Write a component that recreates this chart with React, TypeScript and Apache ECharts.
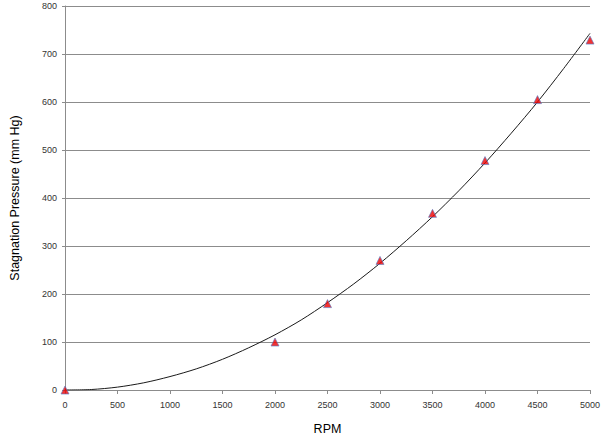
import React, { useEffect, useRef } from "react";
import * as echarts from "echarts";

const rpm = [0, 2000, 2500, 3000, 3500, 4000, 4500, 5000];
const pressure = [0, 100, 180, 270, 368, 478, 605, 729];

// trendline
const trendRpm = [0, 250, 500, 750, 1000, 1250, 1500, 1750, 2000, 2250, 2500, 2750, 3000, 3250, 3500, 3750, 4000, 4250, 4500, 4750, 5000];
const trendPressure = [0, 1, 6, 15, 28, 44, 64, 88, 115, 146, 182, 221, 264, 311, 361, 415, 473, 535, 600, 670, 743];

const xTicks = [0, 500, 1000, 1500, 2000, 2500, 3000, 3500, 4000, 4500, 5000];
const yTicks = [0, 100, 200, 300, 400, 500, 600, 700, 800];

export default function App() {
  const ref = useRef<HTMLDivElement>(null);
  useEffect(() => {
    if (!ref.current) return;
    const chart = echarts.init(ref.current, null, { renderer: "svg" });
    const font = "Liberation Sans, Arial, sans-serif";
    chart.setOption({
      animation: false,
      backgroundColor: "#ffffff",
      grid: { left: 60, right: 16, top: 6, bottom: 51 },
      xAxis: {
        type: "value",
        min: xTicks[0],
        max: xTicks[xTicks.length - 1],
        interval: 500,
        name: "RPM",
        nameLocation: "middle",
        nameGap: 32,
        nameTextStyle: { fontFamily: font, fontSize: 12.5, color: "#000" },
        axisLine: { show: true, onZero: false, lineStyle: { color: "#8c8c8c", width: 1 } },
        axisTick: { show: true, length: 4, lineStyle: { color: "#8c8c8c" } },
        axisLabel: {
          fontFamily: font,
          fontSize: 9,
          color: "#333",
          margin: 10,
          formatter: (v: number) => String(v),
        },
        splitLine: { show: false },
      },
      yAxis: {
        type: "value",
        min: yTicks[0],
        max: yTicks[yTicks.length - 1],
        interval: 100,
        name: "Stagnation Pressure (mm Hg)",
        nameLocation: "middle",
        nameGap: 44,
        nameTextStyle: { fontFamily: font, fontSize: 12.5, color: "#000" },
        axisLine: { show: true, lineStyle: { color: "#8c8c8c", width: 1 } },
        axisTick: { show: true, length: 3, lineStyle: { color: "#8c8c8c" } },
        axisLabel: {
          fontFamily: font,
          fontSize: 9,
          color: "#333",
          margin: 8,
          formatter: (v: number) => String(v),
        },
        splitLine: { show: true, lineStyle: { color: "#8c8c8c", width: 1 } },
      },
      series: [
        {
          type: "line",
          data: trendRpm.map((x, i) => [x, trendPressure[i]]),
          smooth: 0.3,
          showSymbol: false,
          symbol: "none",
          lineStyle: { color: "#1a1a1a", width: 1 },
          z: 2,
        },
        {
          type: "scatter",
          data: rpm.map((x, i) => [x, pressure[i]]),
          symbol: "triangle",
          symbolSize: 8,
          itemStyle: { color: "#ee0000", borderColor: "#5b7fc7", borderWidth: 0.8 },
          z: 3,
        },
      ],
    });
    return () => chart.dispose();
  }, []);
  return (
    <div
      ref={ref}
      style={{ position: "fixed", left: 0, top: 0, width: 606, height: 441 }}
    />
  );
}
